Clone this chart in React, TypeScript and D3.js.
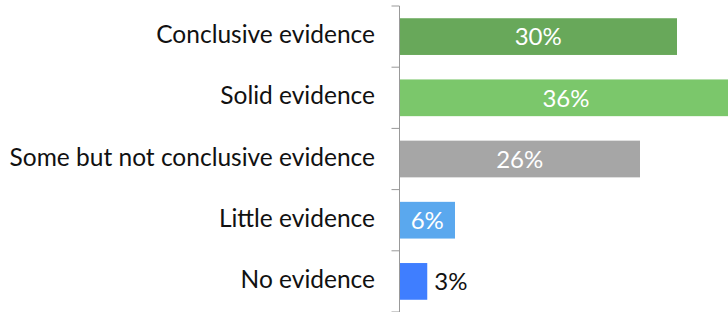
import React from "react";
import * as d3 from "d3";

const categories = [
  "Conclusive evidence",
  "Solid evidence",
  "Some but not conclusive evidence",
  "Little evidence",
  "No evidence",
];
const values = [30, 36, 26, 6, 3];
const colors = ["#68A85A", "#7BC76B", "#A6A6A6", "#5AA8EE", "#3F7EFF"];

const W = 728;
const H = 312;
const margin = { left: 399.5, top: 6, bottom: 0 };

export default function App() {
  const x = d3.scaleLinear().domain([0, 30]).range([margin.left, 677]);
  const y = d3
    .scaleBand<string>()
    .domain(categories)
    .range([margin.top, H])
    .paddingInner(0.4)
    .paddingOuter(0.2);
  const step = y.step();
  const font = "Lato, 'Open Sans', sans-serif";
  return (
    <svg
      width={W}
      height={H}
      style={{ position: "absolute", left: 0, top: 0 }}
      fontFamily={font}
    >
      <defs>
        <clipPath id="clip">
          <rect x={0} y={0} width={W} height={H} />
        </clipPath>
      </defs>
      {categories.map((c, i) => {
        const y0 = y(c)!;
        const bw = x(values[i]) - x(0);
        const inside = bw > 40;
        return (
          <g key={c} clipPath="url(#clip)">
            <rect x={x(0)} y={y0} width={bw} height={y.bandwidth()} fill={colors[i]} />
            <text
              x={inside ? x(0) + bw / 2 : x(values[i]) + 7}
              y={y0 + y.bandwidth() / 2}
              dy="0.37em"
              textAnchor={inside ? "middle" : "start"}
              fill={inside ? "#fff" : "#111"}
              fontSize={24}
            >
              {values[i]}%
            </text>
            <text
              x={375}
              y={y0 + y.bandwidth() / 2}
              dy="0.27em"
              textAnchor="end"
              fill="#111"
              fontSize={24.5}
            >
              {c}
            </text>
          </g>
        );
      })}
      <line x1={margin.left} x2={margin.left} y1={margin.top} y2={H} stroke="#999" strokeWidth={1} />
      {d3.range(categories.length + 1).map((k) => (
        <line
          key={k}
          x1={margin.left - 8}
          x2={margin.left}
          y1={margin.top + k * step}
          y2={margin.top + k * step}
          stroke="#999"
          strokeWidth={1}
        />
      ))}
    </svg>
  );
}
